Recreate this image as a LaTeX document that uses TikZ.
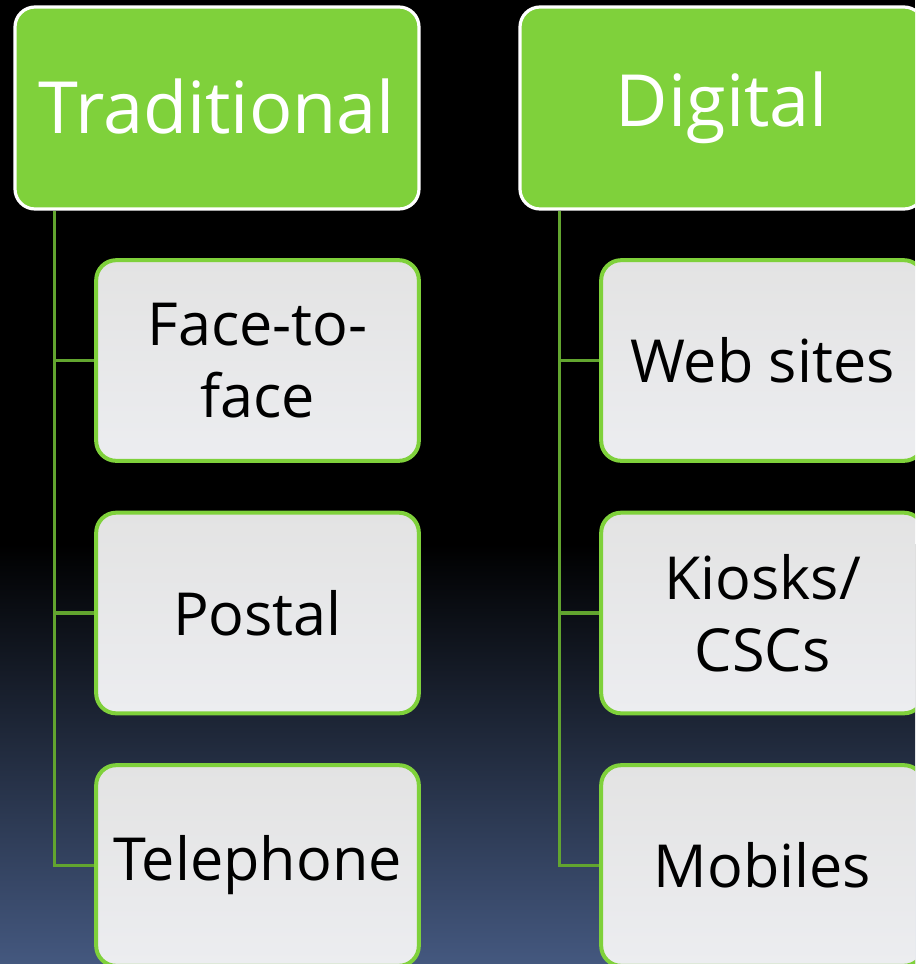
\documentclass[tikz,border=0pt]{standalone}
\usepackage{fontspec}
\setmainfont{Open Sans}
\usetikzlibrary{calc}
\definecolor{hdrgreen}{HTML}{7FD13B}
\definecolor{linegreen}{HTML}{62A52F}
\definecolor{bgblue}{HTML}{44587F}
\definecolor{cardtop}{HTML}{E3E3E3}
\definecolor{cardbot}{HTML}{ECEDF0}
\tikzset{
  header/.style={draw=white, line width=2.4pt, fill=hdrgreen, rounded corners=15pt,
    minimum width=303pt, minimum height=151.5pt, text=white,
    font=\fontsize{54}{64}\selectfont, inner sep=0pt},
  card/.style={draw=hdrgreen, line width=3pt, top color=cardtop, bottom color=cardbot,
    rounded corners=15pt, minimum width=242pt, minimum height=150.5pt, text=black,
    font=\fontsize{44.5}{54}\selectfont, align=center, inner sep=0pt},
  conn/.style={draw=linegreen, line width=2.3pt}
}
\begin{document}
\begin{tikzpicture}[x=0.75pt, y=-0.75pt]
\useasboundingbox (0,0) rectangle (915,964);
\clip (0,0) rectangle (915,964);
% backdrop: black fading to slate blue at the foot
\fill[black] (0,0) rectangle (915,545);
\shade[top color=black, bottom color=bgblue] (0,544) rectangle (915,964);

% column headers
\node[header] (trad) at (217,108) {\raisebox{3pt}{Traditional}};
\node[header] (dig) at (722,108) {\raisebox{3pt}{Digital}};

% left column
\node[card] (face) at (257.5,360.5) {Face-to-\\face};
\node[card] (post) at (257.5,613) {Postal};
\node[card] (tele) at (257.5,865.5) {Telephone};

% right column
\node[card] (web) at (762.5,360.5) {Web sites};
\node[card] (kiosk) at (762.5,613) {Kiosks/\\CSCs};
\node[card] (mob) at (762.5,865.5) {Mobiles};

% tree connectors
\draw[conn] ($(trad.south west)+(41,0)$) |- (face.west);
\draw[conn] ($(trad.south west)+(41,0)$) |- (post.west);
\draw[conn] ($(trad.south west)+(41,0)$) |- (tele.west);
\draw[conn] ($(dig.south west)+(41,0)$) |- (web.west);
\draw[conn] ($(dig.south west)+(41,0)$) |- (kiosk.west);
\draw[conn] ($(dig.south west)+(41,0)$) |- (mob.west);
\end{tikzpicture}
\end{document}
